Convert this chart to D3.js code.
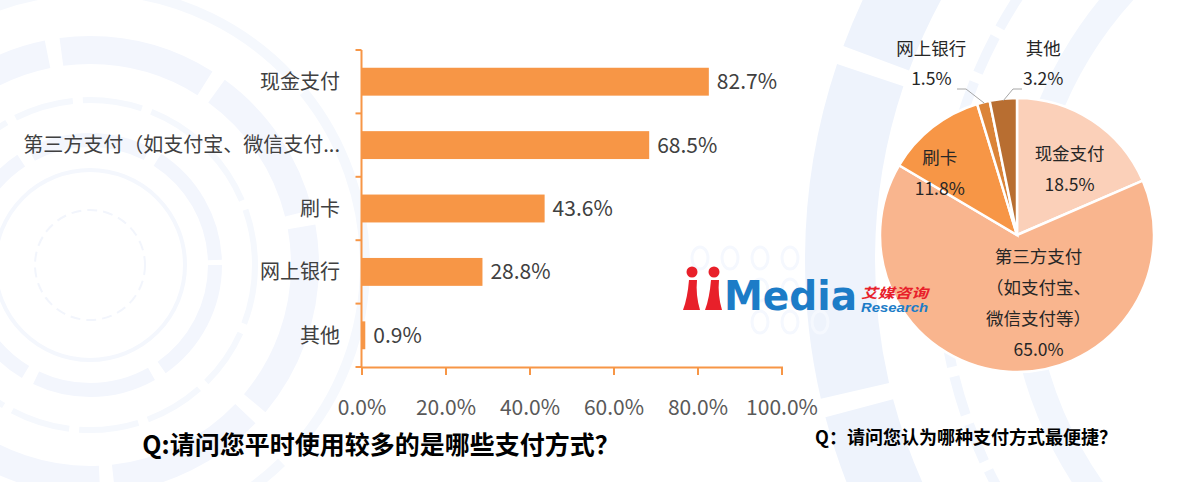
<!DOCTYPE html>
<html><head><meta charset="utf-8">
<script src="https://cdn.jsdelivr.net/npm/d3@7"></script>
<style>
html,body{margin:0;padding:0;background:#fff;}
svg{display:block;font-family:"Noto Sans CJK SC","Noto Sans",sans-serif;}
</style></head>
<body><svg id="c" width="1179" height="482"></svg>
<script>
// ---- data ----
const barCategories = ["现金支付","第三方支付（如支付宝、微信支付...","刷卡","网上银行","其他"];
const barValues = [82.7, 68.5, 43.6, 28.8, 0.9];
const xTickValues = [0, 20, 40, 60, 80, 100];
const barTitle = "Q:请问您平时使用较多的是哪些支付方式？";

const pieCategories = ["现金支付","第三方支付（如支付宝、微信支付等）","刷卡","网上银行","其他"];
const pieLabelLines = [["现金支付"],["第三方支付","（如支付宝、","微信支付等）"],["刷卡"],["网上银行"],["其他"]];
const pieValues = [18.5, 65.0, 11.8, 1.5, 3.2];
const pieColors = ["#FBD0B9","#F9B58E","#F79646","#DB8438","#B86E31"];
const pieTitle = "Q：请问您认为哪种支付方式最便捷？";

const svg = d3.select("#c");

// ---- faint background decoration ----
const bg = svg.append("g").attr("fill","none");
function ring(cx, cy, r, w, dash, col){
  bg.append("circle").attr("cx",cx).attr("cy",cy).attr("r",r)
    .attr("stroke",col).attr("stroke-width",w).attr("stroke-dasharray",dash||null);
}
ring(90,265,55,2,"10 6","#F2F5FC");
ring(90,265,95,4,null,"#F4F7FD");
ring(90,265,125,14,"120 12","#F3F6FD");
ring(90,265,165,6,"60 10","#F5F8FD");
ring(90,265,215,28,"150 14","#F3F6FD");
ring(90,265,275,10,"200 20","#F5F8FD");
ring(1420,260,580,70,"320 18","#EEF3FC");
ring(1420,260,480,10,"40 10","#F2F6FD");
ring(1420,260,400,26,"180 20","#F2F6FD");
// faint ovals near logo
const dots = [[700,258],[730,258],[760,258],[790,258],[760,290],[790,290],[760,322],[790,322],[820,322]];
bg.selectAll("ellipse.d").data(dots).join("ellipse").attr("cx",d=>d[0]).attr("cy",d=>d[1])
  .attr("rx",8).attr("ry",11).attr("stroke","#F5F8FE").attr("stroke-width",3);

// ---- bar chart ----
const x = d3.scaleLinear().domain([0,100]).range([361.5,781.5]);
const y = d3.scaleBand().domain(barCategories).range([50,367]).paddingInner(0.56).paddingOuter(0.28);
const orange = "#F79646";
const gBar = svg.append("g");

gBar.selectAll("rect.bar").data(barValues).join("rect")
  .attr("x", x(0)).attr("y",(d,i)=>y(barCategories[i]))
  .attr("width", d=>x(d)-x(0)).attr("height", y.bandwidth()).attr("fill", orange);

gBar.selectAll("text.val").data(barValues).join("text")
  .attr("x", d=>x(d)+8).attr("y",(d,i)=>y(barCategories[i])+y.bandwidth()/2)
  .attr("dy","0.36em").attr("font-size",21).attr("fill","#404040")
  .text(d=>d.toFixed(1)+"%");

// y axis
const yStep = (367-50)/barCategories.length;
gBar.append("line").attr("x1",x(0)).attr("x2",x(0)).attr("y1",50).attr("y2",367)
  .attr("stroke",orange).attr("stroke-width",2);
gBar.selectAll("line.yt").data(d3.range(barCategories.length+1)).join("line")
  .attr("x1",x(0)-6).attr("x2",x(0)).attr("y1",i=>50+i*yStep).attr("y2",i=>50+i*yStep)
  .attr("stroke",orange).attr("stroke-width",2);
gBar.selectAll("text.cat").data(barCategories).join("text")
  .attr("x",340).attr("y",d=>y(d)+y.bandwidth()/2).attr("dy","0.36em")
  .attr("text-anchor","end").attr("font-size",20).attr("fill","#404040").text(d=>d);

// x axis
const xAxis = d3.axisBottom(x).tickValues(xTickValues).tickSize(8).tickFormat(d=>d.toFixed(1)+"%");
const gx = gBar.append("g").attr("transform","translate(0,367)").call(xAxis);
gx.select(".domain").attr("stroke",orange).attr("stroke-width",2);
gx.selectAll(".tick line").attr("stroke",orange).attr("stroke-width",2);
gx.selectAll(".tick text").attr("font-size",21).attr("fill","#595959")
  .attr("font-family","'Noto Sans CJK SC','Noto Sans',sans-serif").attr("dy","0").attr("y",48);

svg.append("text").attr("x",381).attr("y",454).attr("text-anchor","middle")
  .attr("font-size",25).attr("font-weight","bold").attr("fill","#000").text(barTitle);

// ---- pie ----
const cx = 1017, cy = 235, R = 137;
const gPie = svg.append("g").attr("transform",`translate(${cx},${cy})`);
const pie = d3.pie().sort(null).value(d=>d);
const arcs = pie(pieValues);
const arc = d3.arc().innerRadius(0).outerRadius(R);
gPie.selectAll("path").data(arcs).join("path")
  .attr("d",arc).attr("fill",(d,i)=>pieColors[i]).attr("stroke","#fff").attr("stroke-width",2.5);

// label placement config (radius factor, dx, dy) per slice
const labelCfg = [
  {r:0.62, dx:6, dy:5},
  {r:0.52, dx:26, dy:-3},
  {r:0.70, dx:-18, dy:14},
  {r:1.00, dx:-52, dy:0},
  {r:1.00, dx:40, dy:0}
];
const lh = 31;
arcs.forEach((a,i)=>{
  const cfg = labelCfg[i];
  let px, py;
  if (i>=3){
    const m = d3.arc().innerRadius(R).outerRadius(R).centroid(a);
    px = m[0] + cfg.dx; py = -186;
  } else {
    const c = d3.arc().innerRadius(R*cfg.r).outerRadius(R*cfg.r).centroid(a);
    px = c[0]+cfg.dx; py = c[1]+cfg.dy;
  }
  const lines = pieLabelLines[i].concat([pieValues[i].toFixed(1)+"%"]);
  const y0 = (i>=3) ? py : py - (lines.length-1)*lh/2;
  const t = gPie.append("text").attr("text-anchor","middle").attr("font-size",17.5).attr("fill","#262626");
  lines.forEach((s,k)=>{
    t.append("tspan").attr("x",px).attr("y",y0+k*(i>=3?30:lh)).attr("dy","0.36em").text(s);
  });
});
// leader lines for small slices
const edge = d3.arc().innerRadius(R).outerRadius(R);
const l3 = edge.centroid(arcs[3]);
gPie.append("polyline").attr("points",[[-60,-146],[-51,-146],[l3[0]+1,l3[1]+1]].map(p=>p.join(",")).join(" "))
  .attr("fill","none").attr("stroke","#A6A6A6").attr("stroke-width",1);
const l4 = edge.centroid(arcs[4]);
gPie.append("polyline").attr("points",[[5,-146],[-4,-146],[l4[0],l4[1]+2]].map(p=>p.join(",")).join(" "))
  .attr("fill","none").attr("stroke","#A6A6A6").attr("stroke-width",1);

svg.append("text").attr("x",966).attr("y",444).attr("text-anchor","middle")
  .attr("font-size",18).attr("font-weight","bold").attr("fill","#000").text(pieTitle);

// ---- logo ----
const lg = svg.append("g");
const red = "#E8202A", blue = "#1C7CC7";
lg.append("circle").attr("cx",692).attr("cy",272).attr("r",5.5).attr("fill",red);
lg.append("circle").attr("cx",714).attr("cy",272).attr("r",5.5).attr("fill",red);
lg.append("path").attr("d","M689,280 C688,292 686,302 683,310 L700,310 C697,300 696,290 697,280 Z").attr("fill",red);
lg.append("path").attr("d","M711,280 C710,292 708,302 705,310 L722,310 C719,300 718,290 719,280 Z").attr("fill",red);
lg.append("text").attr("x",724).attr("y",310).attr("font-size",41).attr("font-weight","900")
  .attr("font-family","'DejaVu Sans',sans-serif").attr("fill",blue).attr("textLength",133)
  .attr("lengthAdjust","spacingAndGlyphs").text("Media");
lg.append("text").attr("x",861).attr("y",298).attr("font-size",13.5).attr("font-weight","bold")
  .attr("font-style","italic").attr("fill",red).attr("textLength",67).attr("lengthAdjust","spacingAndGlyphs").text("艾媒咨询");
lg.append("text").attr("x",861).attr("y",312).attr("font-size",12).attr("font-weight","bold")
  .attr("font-style","italic").attr("font-family","'Liberation Sans',sans-serif").attr("fill",blue)
  .attr("textLength",67).attr("lengthAdjust","spacingAndGlyphs").text("Research");
</script></body></html>
